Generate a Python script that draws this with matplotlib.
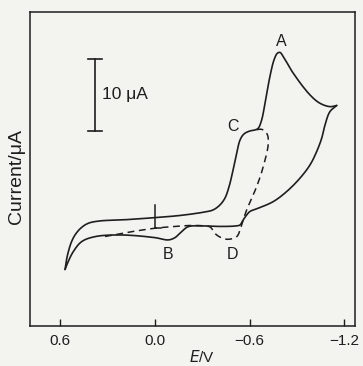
import matplotlib
matplotlib.use("Agg")
import matplotlib.pyplot as plt
import numpy as np

plt.rcParams['font.family'] = ['Liberation Sans', 'DejaVu Sans']

# Solid CV: forward (upper) branch, from the left tip to the switching tip (E in V, I in uA)
fwd_E = [0.568, 0.559, 0.547, 0.530, 0.505, 0.467, 0.421, 0.347, 0.209, -0.001, -0.160,
         -0.307, -0.369, -0.413, -0.445, -0.470, -0.489, -0.519, -0.540, -0.565, -0.603,
         -0.635, -0.655, -0.677, -0.698, -0.729, -0.755, -0.776, -0.793, -0.814, -0.877,
         -0.983, -1.046, -1.109, -1.152]
fwd_I = [-5.65, -4.32, -3.17, -1.95, -0.84, 0.14, 0.79, 1.12, 1.26, 1.58, 1.88,
         2.33, 2.65, 3.35, 4.32, 5.86, 7.53, 10.56, 12.41, 13.25, 13.67,
         13.81, 14.04, 15.20, 17.53, 21.24, 23.57, 24.50, 24.62, 24.03, 21.72,
         18.69, 17.53, 17.06, 17.22]

# Solid CV: return (lower) branch, from the switching tip back to the left tip
rev_E = [-1.152, -1.109, -1.078, -1.057, -1.025, -0.983, -0.919, -0.835, -0.750, -0.655,
         -0.603, -0.582, -0.560, -0.540, -0.514, -0.413, -0.307, -0.212, -0.170, -0.128,
         -0.086, -0.001, 0.209, 0.378, 0.463, 0.516, 0.549, 0.568]
rev_I = [17.22, 16.36, 14.50, 12.65, 10.78, 8.93, 7.07, 5.21, 3.81, 2.89,
         2.44, 1.95, 1.26, 0.56, 0.42, 0.35, 0.42, 0.32, -0.38, -1.21,
         -1.53, -1.21, -0.84, -1.07, -1.77, -3.17, -4.60, -5.65]

# Dashed scan (reversed before peak A)
dash_E = [0.315, 0.157, -0.001, -0.128, -0.236, -0.318, -0.350, -0.392, -0.455, -0.519,
          -0.540, -0.560, -0.582, -0.645, -0.687, -0.719, -0.711, -0.679, -0.635]
dash_I = [-1.05, -0.42, 0.10, 0.35, 0.49, 0.42, 0.28, -0.84, -1.44, -1.07,
          -0.14, 1.26, 2.65, 5.90, 8.69, 11.95, 13.25, 13.88, 13.81]

x_ticks = [0.6, 0.0, -0.6, -1.2]
x_ticklabels = ["0.6", "0.0", "\u22120.6", "\u22121.2"]

peak_labels = ["A", "B", "C", "D"]
peak_E = [-0.804, -0.086, -0.497, -0.491]
peak_I = [26.1, -3.6, 14.3, -3.6]

scale_bar_uA = 10.0

XLIM = (0.79, -1.268)
YLIM = (-13.5, 30.3)


def catmull_rom(x, y, n=12):
    """Centripetal Catmull-Rom spline through the given points (in screen-like units)."""
    sx = 325.0 / (XLIM[0] - XLIM[1])
    sy = 314.0 / (YLIM[1] - YLIM[0])
    P = np.column_stack([np.asarray(x) * sx, np.asarray(y) * sy])
    P = np.vstack([2 * P[0] - P[1], P, 2 * P[-1] - P[-2]])
    out = []
    for i in range(1, len(P) - 2):
        p0, p1, p2, p3 = P[i - 1], P[i], P[i + 1], P[i + 2]
        def tj(ti, a, b):
            return ti + max(np.hypot(*(b - a)), 1e-6) ** 0.5
        t0 = 0.0
        t1 = tj(t0, p0, p1)
        t2 = tj(t1, p1, p2)
        t3 = tj(t2, p2, p3)
        t = np.linspace(t1, t2, n, endpoint=False)[:, None]
        A1 = (t1 - t) / (t1 - t0) * p0 + (t - t0) / (t1 - t0) * p1
        A2 = (t2 - t) / (t2 - t1) * p1 + (t - t1) / (t2 - t1) * p2
        A3 = (t3 - t) / (t3 - t2) * p2 + (t - t2) / (t3 - t2) * p3
        B1 = (t2 - t) / (t2 - t0) * A1 + (t - t0) / (t2 - t0) * A2
        B2 = (t3 - t) / (t3 - t1) * A2 + (t - t1) / (t3 - t1) * A3
        C = (t2 - t) / (t2 - t1) * B1 + (t - t1) / (t2 - t1) * B2
        out.append(C)
    out.append(P[-2][None, :])
    out = np.vstack(out)
    return out[:, 0] / sx, out[:, 1] / sy


bg = '#f3f3f0'
ink = '#1e1e1e'
fig = plt.figure(figsize=(3.63, 3.66), dpi=100, facecolor=bg)
ax = fig.add_axes([0.0826, 0.110, 0.8954, 0.858], facecolor=bg)

for E, I in ((fwd_E, fwd_I), (rev_E, rev_I)):
    xs, ys = catmull_rom(E, I)
    ax.plot(xs, ys, color=ink, lw=1.2, solid_joinstyle='round', solid_capstyle='round')
xs, ys = catmull_rom(dash_E, dash_I)
ax.plot(xs, ys, color=ink, lw=1.1, dashes=(4.5, 3))

# zero marker
ax.plot([0.0, 0.0], [0.1, 3.35], color=ink, lw=1.1)
ax.plot([0.0, -0.04], [0.1, 0.1], color=ink, lw=1.1)

# scale bar
sb_E = 0.378
sb_low = 13.71
ax.plot([sb_E, sb_E], [sb_low, sb_low + scale_bar_uA], color=ink, lw=1.2)
for yy in (sb_low, sb_low + scale_bar_uA):
    ax.plot([sb_E + 0.043, sb_E - 0.043], [yy, yy], color=ink, lw=1.2)
ax.text(sb_E - 0.042, sb_low + scale_bar_uA / 2, "10 \u03bcA", fontsize=12.5, color=ink,
        ha='left', va='center')

for lab, e, i in zip(peak_labels, peak_E, peak_I):
    ax.text(e, i, lab, fontsize=11.5, color=ink, ha='center', va='center')

ax.set_xlim(*XLIM)
ax.set_ylim(*YLIM)
ax.set_xticks(x_ticks)
ax.set_xticklabels(x_ticklabels)
ax.set_yticks([])
ax.tick_params(axis='x', direction='in', length=5, width=1, colors=ink, labelsize=11, pad=6)
for s in ax.spines.values():
    s.set_color(ink)
    s.set_linewidth(1.1)

fig.text(202 / 363, 1 - 364.5 / 366, "$E$/V", fontsize=11, color=ink, ha='center', va='bottom')
fig.text(17 / 363, 1 - 176 / 366, "Current/\u03bcA", fontsize=14, color=ink,
         rotation=90, ha='center', va='center')

fig.savefig("out.png", dpi=100, facecolor=bg)
